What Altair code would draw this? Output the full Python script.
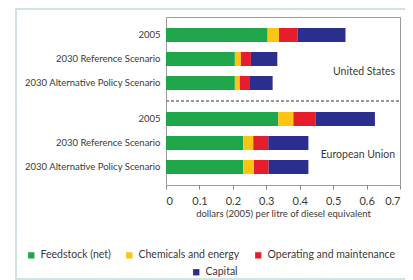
import altair as alt
import pandas as pd

# slot keys top-to-bottom; "|" separates an id from the visible label
slots = ["s0|", "US|2005", "s2|", "US|2030 Reference Scenario", "s4|",
         "US|2030 Alternative Policy Scenario", "s6|", "s7|", "EU|2005", "s9|",
         "EU|2030 Reference Scenario", "s11|", "EU|2030 Alternative Policy Scenario", "s13|"]
bars = ["US|2005", "US|2030 Reference Scenario", "US|2030 Alternative Policy Scenario",
        "EU|2005", "EU|2030 Reference Scenario", "EU|2030 Alternative Policy Scenario"]
components = ["Feedstock (net)", "Chemicals and energy", "Operating and maintenance", "Capital"]
colors = ["#1fa64b", "#fcc514", "#e41e2c", "#2b2e8f"]
feedstock = [0.304, 0.206, 0.206, 0.336, 0.231, 0.231]
chemicals = [0.034, 0.018, 0.015, 0.045, 0.030, 0.032]
operating = [0.056, 0.030, 0.028, 0.067, 0.045, 0.044]
capital = [0.143, 0.079, 0.070, 0.177, 0.120, 0.119]
x_ticks = [0, 0.1, 0.2, 0.3, 0.4, 0.5, 0.6, 0.7]

rows = []
for i, b in enumerate(bars):
    for j, (c, vals) in enumerate(zip(components, [feedstock, chemicals, operating, capital])):
        rows.append({"key": b, "component": c, "order": j, "value": vals[i]})
df = pd.DataFrame(rows)

FONT = "Lato"
TXT = "#3a3a3a"

base = alt.Chart(df).transform_stack(
    stack="value", as_=["x0", "x1"], groupby=["key"],
    sort=[alt.SortField("order", order="ascending")]
)

y_enc = alt.Y("key:N", scale=alt.Scale(domain=slots, paddingInner=0, paddingOuter=0),
              axis=alt.Axis(title=None, labelExpr="split(datum.label,'|')[1]", ticks=False,
                            domain=False, labelFont=FONT, labelFontSize=9.5, labelColor=TXT,
                            labelPadding=6))
x_enc = alt.X("x0:Q", scale=alt.Scale(domain=[0, 0.7], nice=False),
              axis=alt.Axis(values=x_ticks, title="dollars (2005) per litre of diesel equivalent",
                            grid=False, domain=False, tickColor="#888", tickSize=4,
                            labelFont=FONT, labelFontSize=11, labelColor=TXT, labelPadding=6,
                            titleFont=FONT, titleFontSize=9.5, titleColor=TXT,
                            titleFontWeight="normal", titlePadding=2, format="~g"))

first3 = base.transform_filter(alt.datum.component != "Capital").mark_bar(size=14).encode(
    x=x_enc, x2="x1:Q", y=y_enc,
    color=alt.Color("component:N", scale=alt.Scale(domain=components[:3], range=colors[:3]),
                    legend=alt.Legend(title=None, orient="none", legendX=-140, legendY=233,
                                      direction="horizontal", symbolType="square", symbolSize=40,
                                      labelFont=FONT, labelFontSize=10.5, labelColor=TXT,
                                      columnPadding=13, labelOffset=4))
)
cap = base.transform_filter(alt.datum.component == "Capital").mark_bar(size=14).encode(
    x=x_enc, x2="x1:Q", y=y_enc,
    color=alt.Color("component:N", scale=alt.Scale(domain=components[3:], range=colors[3:]),
                    legend=alt.Legend(title=None, orient="none", legendX=25, legendY=250,
                                      direction="horizontal", symbolType="square", symbolSize=40,
                                      labelFont=FONT, labelFontSize=10.5, labelColor=TXT,
                                      labelOffset=4))
)

divider = alt.Chart(df).mark_rule(color="#999", strokeDash=[3, 2], strokeWidth=1).encode(
    x=alt.value(0), x2=alt.value(234), y=alt.value(84)
)
region_names = ["United States", "European Union"]
region_y = [55, 138]
lab = alt.Chart(pd.DataFrame({"name": region_names, "py": region_y})).mark_text(
    align="right", baseline="middle", font=FONT, fontSize=10.5, color=TXT
).encode(x=alt.value(229), y=alt.Y("py:Q", scale=None), text="name:N")

frame = alt.Chart(df).mark_rect(fill=None, stroke="#cfe2e6", strokeWidth=2).encode(
    x=alt.value(-150), x2=alt.value(260), y=alt.value(-8), y2=alt.value(262)
)

chart = alt.layer(frame, first3, cap, divider, lab).resolve_scale(color="independent").properties(
    width=234, height=168,
    autosize=alt.AutoSizeParams(type="none"),
    padding={"left": 158, "top": 9, "right": 5, "bottom": 98},
).configure_view(stroke="#9a9a9a", strokeWidth=1)

chart.save("out.html", embed_options={"renderer": "svg", "actions": False})
